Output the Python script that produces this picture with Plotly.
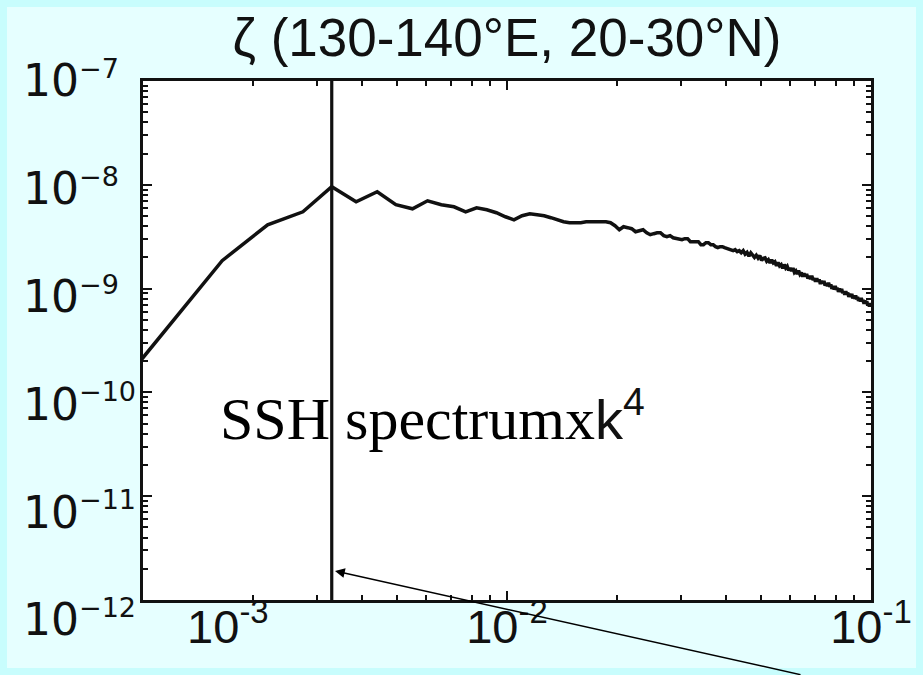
import plotly.graph_objects as go

# ---------------- data ----------------
dk = 0.55e-3                      # wavenumber spacing
mode_index = list(range(1, 183))  # spectral bins 1..182
log10_power = [
    -10.78, -9.490, -8.731, -8.385, -8.260, -8.019, -8.163, -8.067, -8.192, -8.231,
    -8.154, -8.192, -8.212, -8.260, -8.221, -8.240, -8.269, -8.308, -8.337, -8.298,
    -8.279, -8.288, -8.298, -8.317, -8.337, -8.356, -8.365, -8.365, -8.365, -8.356,
    -8.356, -8.356, -8.356, -8.356, -8.365, -8.394, -8.433, -8.404, -8.413, -8.423,
    -8.452, -8.442, -8.433, -8.462, -8.481, -8.471, -8.462, -8.462, -8.490, -8.500,
    -8.490, -8.510, -8.519, -8.519, -8.529, -8.519, -8.519, -8.548, -8.548, -8.548,
    -8.548, -8.577, -8.577, -8.558, -8.558, -8.577, -8.577, -8.596, -8.606, -8.596,
    -8.596, -8.606, -8.615, -8.615, -8.625, -8.635, -8.625, -8.644, -8.635, -8.654,
    -8.635, -8.668, -8.651, -8.687, -8.655, -8.679, -8.699, -8.678, -8.706, -8.682,
    -8.729, -8.708, -8.704, -8.737, -8.721, -8.754, -8.722, -8.753, -8.742, -8.780,
    -8.747, -8.781, -8.769, -8.805, -8.768, -8.802, -8.785, -8.824, -8.802, -8.829,
    -8.801, -8.844, -8.830, -8.860, -8.828, -8.862, -8.846, -8.885, -8.854, -8.883,
    -8.860, -8.903, -8.879, -8.909, -8.877, -8.916, -8.901, -8.933, -8.900, -8.933,
    -8.913, -8.955, -8.926, -8.950, -8.927, -8.970, -8.947, -8.977, -8.944, -8.983,
    -8.961, -9.001, -8.976, -9.008, -8.975, -9.010, -8.993, -9.032, -8.999, -9.031,
    -9.004, -9.044, -9.026, -9.058, -9.025, -9.058, -9.038, -9.080, -9.050, -9.077,
    -9.051, -9.093, -9.069, -9.098, -9.065, -9.103, -9.080, -9.119, -9.093, -9.124,
    -9.091, -9.126, -9.109, -9.147, -9.115, -9.147, -9.120, -9.159, -9.141, -9.174,
    -9.141, -9.173,
]
marker_k = 3.3e-3                  # vertical reference line
arrow_tip_log = (-2.4725, -11.72)  # log10 (k, power) where the arrow points
title_text = "ζ (130-140°E, 20-30°N)"
annot_text = ("SSH spectrumx<span style='font-family:Liberation Sans, Arial;"
              "font-size:56px;color:#111'>k<sup>4</sup></span>")
y_exponents = [-12, -11, -10, -9, -8, -7]
x_exponents = [-3, -2, -1]

k = [dk * n for n in mode_index]
power = [10 ** v for v in log10_power]

# ---------------- figure ----------------
W, H = 923, 675
ML, MR, MT, MB = 143, 52, 81, 50       # outer margins
AX_BOTTOM = 600                        # pixel row of the x axis line
PW, PH = W - ML - MR, H - MT - MB      # plotting area (544 px tall)
ydom0 = (MT + PH - AX_BOTTOM) / PH


def py(ypix):
    """paper y fraction for a pixel row"""
    return (MT + PH - ypix) / PH


fig = go.Figure()
fig.add_trace(go.Scatter(x=k, y=power, mode="lines",
                         line=dict(color="#111", width=3.5), showlegend=False))
fig.add_trace(go.Scatter(x=[marker_k, marker_k], y=[10 ** y_exponents[0], 10 ** y_exponents[-1]],
                         mode="lines", line=dict(color="#111", width=3.2), showlegend=False))
# empty trace so the label-only axes are instantiated
fig.add_trace(go.Scatter(x=[], y=[], xaxis="x2", yaxis="y2", showlegend=False, hoverinfo="skip"))

minor_y = [m * 10.0 ** e for e in range(-12, -7) for m in range(2, 10)]
minor_x = [m * 10.0 ** e for e in range(-3, -1) for m in range(2, 10)]

tick_style = dict(ticks="inside", ticklen=9, tickwidth=2, tickcolor="#111",
                  showline=True, linecolor="#111", linewidth=2.5, mirror="allticks",
                  showgrid=False, zeroline=False, automargin=False, showticklabels=False)


def ylab(e):
    s = "\u2212%d" % (-e)
    pad = "" if len(s) > 2 else "\u00a0\u00a0"
    return "10<sup><span style='font-size:27px'>%s%s</span></sup>" % (s, pad)


# label axis spans 81..625 px; -7 sits at the top, -12 at 620 px
y2_bottom = -7 - 5 * PH / (620 - MT)

fig.update_layout(
    xaxis=dict(type="log", range=[-3, -1], anchor="y",
               tickvals=[10.0 ** e for e in x_exponents],
               minor=dict(tickvals=minor_x, ticks="inside", ticklen=5, tickwidth=1.5,
                          tickcolor="#111", showgrid=False),
               **tick_style),
    yaxis=dict(type="log", range=[-12, -7], domain=[ydom0, 1],
               tickvals=[10.0 ** e for e in y_exponents],
               minor=dict(tickvals=minor_y, ticks="inside", ticklen=5, tickwidth=1.5,
                          tickcolor="#111", showgrid=False),
               **tick_style),
    # label-only axes (labels sit slightly offset from the tick marks, as in the slide)
    xaxis2=dict(type="log", range=[-3, -1], overlaying="x", anchor="free", position=py(595),
                side="bottom", showline=False, ticks="", showgrid=False, zeroline=False,
                automargin=False, ticklabeloverflow="allow",
                tickvals=[10.0 ** e for e in x_exponents],
                ticktext=["\u00a0" * 13 + "10<sup>-3</sup>", "10<sup>-2</sup>", "10<sup>-1</sup>"],
                tickfont=dict(family="Liberation Sans, Arial", size=47, color="#111")),
    yaxis2=dict(type="log", range=[y2_bottom, -7], anchor="free", position=0, side="left",
                domain=[0, 1], showline=False, ticks="", showgrid=False, zeroline=False,
                automargin=False, ticklabeloverflow="allow",
                tickvals=[10.0 ** e for e in y_exponents],
                ticktext=[ylab(e) for e in y_exponents],
                tickfont=dict(family="DejaVu Sans, Liberation Sans", size=44, color="#111"),
                ticklabelstandoff=7),
)

# outer cyan frame
fig.add_shape(type="rect", xref="paper", yref="paper", layer="below",
              x0=-ML / PW, x1=1 + MR / PW, y0=py(H), y1=py(0),
              line=dict(color="#c8fdfd", width=14), fillcolor="rgba(0,0,0,0)")

fig.add_annotation(xref="paper", yref="paper", x=(218 - ML) / PW, y=py(416),
                   xanchor="left", yanchor="middle", showarrow=False, text=annot_text,
                   font=dict(family="Liberation Serif, Times New Roman", size=60, color="#000"))

fig.add_annotation(x=arrow_tip_log[0], y=arrow_tip_log[1], xref="x", yref="y",
                   ax=467, ay=106, axref="pixel", ayref="pixel",
                   text="", showarrow=True, arrowhead=2, arrowsize=1.3, arrowwidth=1.5,
                   arrowcolor="#000", standoff=0)

fig.update_layout(
    width=W, height=H, autosize=False,
    margin=dict(l=ML, r=MR, t=MT, b=MB, pad=0),
    paper_bgcolor="#e6ffff", plot_bgcolor="rgba(0,0,0,0)",
    title=dict(text=title_text, x=0.5, xref="paper", xanchor="center",
               y=1 - 37 / H, yref="container", yanchor="middle",
               font=dict(family="Liberation Sans, Arial", size=53, color="#111")),
)
# white plotting box (only the area inside the axes)
fig.add_shape(type="rect", xref="paper", yref="paper", layer="below",
              x0=0, x1=1, y0=ydom0, y1=1, line=dict(width=0), fillcolor="#ffffff")

fig.write_html("out.html")
